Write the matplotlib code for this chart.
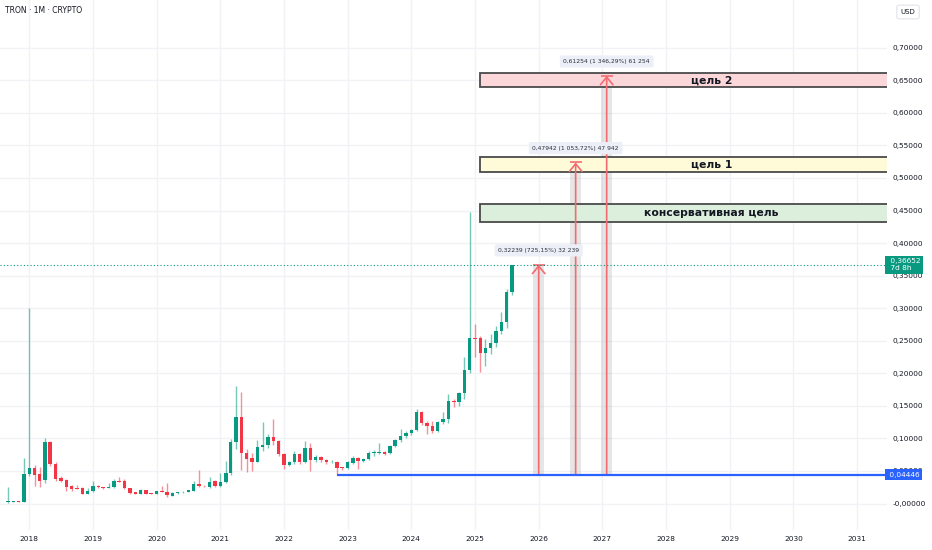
import matplotlib
matplotlib.use("Agg")
import matplotlib.pyplot as plt
import matplotlib.dates as mdates
import matplotlib.transforms as mtransforms
from matplotlib.patches import Rectangle
import pandas as pd
import numpy as np

plt.rcParams['font.family'] = ['DejaVu Sans']

# ---------------- data ----------------
months = pd.date_range('2017-09-01', '2025-08-01', freq='MS')

opens = [0.0020, 0.0022, 0.0028, 0.0022,
         0.0449, 0.0540, 0.0449, 0.0361, 0.0940, 0.0602, 0.0397, 0.0356, 0.0269, 0.0238, 0.0243, 0.0146,
         0.0192, 0.0269, 0.0250, 0.0240, 0.0249, 0.0346, 0.0346, 0.0243, 0.0172, 0.0151, 0.0207, 0.0161,
         0.0146, 0.0192, 0.0172, 0.0120, 0.0157, 0.0172, 0.0172, 0.0197, 0.0300, 0.0274, 0.0249, 0.0340,
         0.0269, 0.0330, 0.0464, 0.0940, 0.1333, 0.0771, 0.0694, 0.0642, 0.0872, 0.0899, 0.1017, 0.0965,
         0.0756, 0.0591, 0.0633, 0.0756, 0.0633, 0.0857, 0.0665, 0.0719, 0.0665, 0.0633, 0.0643, 0.0555,
         0.0540, 0.0627, 0.0694, 0.0653, 0.0684, 0.0771, 0.0776, 0.0791, 0.0771, 0.0888, 0.0975, 0.1042,
         0.1088, 0.1129, 0.1406, 0.1232, 0.1195, 0.1118, 0.1252, 0.1293, 0.1579, 0.1560, 0.1693, 0.2050,
         0.2547, 0.2547, 0.2317, 0.2384, 0.2461, 0.2654, 0.2793, 0.3244]
highs = [0.0249, 0.0040, 0.0035, 0.0694,
         0.3000, 0.0590, 0.0565, 0.1010, 0.0960, 0.0640, 0.0430, 0.0370, 0.0280, 0.0290, 0.0260, 0.0243,
         0.0350, 0.0290, 0.0255, 0.0310, 0.0381, 0.0407, 0.0370, 0.0245, 0.0175, 0.0230, 0.0215, 0.0165,
         0.0197, 0.0269, 0.0310, 0.0170, 0.0180, 0.0185, 0.0210, 0.0346, 0.0515, 0.0280, 0.0400, 0.0360,
         0.0473, 0.0653, 0.0986, 0.1805, 0.1710, 0.0832, 0.0770, 0.0975, 0.1247, 0.1068, 0.1298, 0.0980,
         0.0775, 0.0660, 0.0810, 0.0780, 0.0960, 0.0934, 0.0740, 0.0730, 0.0680, 0.0675, 0.0650, 0.0560,
         0.0660, 0.0734, 0.0710, 0.0700, 0.0806, 0.0820, 0.0934, 0.0810, 0.0900, 0.0995, 0.1140, 0.1120,
         0.1150, 0.1447, 0.1420, 0.1260, 0.1270, 0.1270, 0.1406, 0.1680, 0.1600, 0.1720, 0.2255, 0.4478,
         0.2753, 0.2573, 0.2522, 0.2600, 0.2731, 0.2947, 0.3300, 0.3670]
lows = [0.0015, 0.0018, 0.0018, 0.0018,
        0.0420, 0.0269, 0.0249, 0.0310, 0.0576, 0.0346, 0.0330, 0.0197, 0.0197, 0.0220, 0.0140, 0.0141,
        0.0180, 0.0245, 0.0230, 0.0235, 0.0240, 0.0325, 0.0230, 0.0150, 0.0143, 0.0148, 0.0146, 0.0141,
        0.0143, 0.0170, 0.0105, 0.0115, 0.0150, 0.0168, 0.0170, 0.0195, 0.0260, 0.0250, 0.0240, 0.0249,
        0.0255, 0.0320, 0.0445, 0.0832, 0.0515, 0.0480, 0.0495, 0.0630, 0.0800, 0.0850, 0.0900, 0.0730,
        0.0525, 0.0570, 0.0610, 0.0610, 0.0620, 0.0500, 0.0640, 0.0640, 0.0600, 0.0620, 0.04446, 0.0520,
        0.0530, 0.0610, 0.0525, 0.0640, 0.0670, 0.0730, 0.0755, 0.0740, 0.0760, 0.0870, 0.0950, 0.1000,
        0.1050, 0.1120, 0.1200, 0.1068, 0.1090, 0.1100, 0.1215, 0.1232, 0.1478, 0.1500, 0.1600, 0.2000,
        0.2255, 0.2025, 0.2117, 0.2300, 0.2400, 0.2600, 0.2700, 0.3200]
closes = [0.0030, 0.0028, 0.0022, 0.0449,
          0.0550, 0.0438, 0.0346, 0.0940, 0.0602, 0.0376, 0.0346, 0.0258, 0.0228, 0.0226, 0.0151, 0.0192,
          0.0269, 0.0248, 0.0235, 0.0253, 0.0346, 0.0330, 0.0233, 0.0161, 0.0151, 0.0207, 0.0151, 0.0146,
          0.0192, 0.0172, 0.0128, 0.0166, 0.0172, 0.0180, 0.0207, 0.0300, 0.0264, 0.0264, 0.0330, 0.0269,
          0.0330, 0.0464, 0.0940, 0.1333, 0.0771, 0.0684, 0.0642, 0.0863, 0.0899, 0.1017, 0.0965, 0.0756,
          0.0591, 0.0633, 0.0756, 0.0633, 0.0857, 0.0665, 0.0719, 0.0665, 0.0633, 0.0643, 0.0550, 0.0540,
          0.0642, 0.0704, 0.0653, 0.0684, 0.0771, 0.0786, 0.0791, 0.0766, 0.0888, 0.0975, 0.1042, 0.1088,
          0.1129, 0.1406, 0.1232, 0.1195, 0.1118, 0.1252, 0.1293, 0.1579, 0.1560, 0.1693, 0.2050, 0.2547,
          0.2532, 0.2317, 0.2393, 0.2461, 0.2654, 0.2793, 0.3244, 0.36652]

last_price = 0.36652
base_price = 0.04446
base_start = '2022-11-01'

zone_names = ['цель 2', 'цель 1', 'консервативная цель']
zone_low = [0.6393, 0.5088, 0.4329]
zone_high = [0.6608, 0.5318, 0.4601]
zone_start = '2025-02-01'
zone_end = '2032-05-08'
zone_colors = ['#fcd7da', '#fffbd8', '#dbefdc']

move_dates = ['2026-01-01', '2026-08-01', '2027-01-26']
move_deltas = [0.32239, 0.47942, 0.61254]
move_labels = ['0,32239 (725,15%) 32 239',
               '0,47942 (1 053,72%) 47 942',
               '0,61254 (1 346,29%) 61 254']

price_ticks = [0.00, 0.05, 0.10, 0.15, 0.20, 0.25, 0.30, 0.35, 0.40, 0.45, 0.50, 0.55, 0.60, 0.65, 0.70]
year_ticks = list(range(2018, 2032))

# ---------------- figure ----------------
W, H = 932, 550
fig = plt.figure(figsize=(W / 100, H / 100), dpi=100)
fig.patch.set_facecolor('white')
ax = fig.add_axes([0, 20 / H, 887 / W, 530 / H])
ax.set_facecolor('white')

UP = '#089981'
DOWN = '#f23645'
TXT = '#131722'

x = mdates.date2num(months)
o = np.array(opens); h = np.array(highs); l = np.array(lows); c = np.array(closes)
up = c >= o
cols = np.where(up, UP, DOWN)

# wicks
ax.vlines(x, l, h, colors=cols, linewidth=1.0, alpha=0.55, zorder=4)
# bodies
body_bottom = np.minimum(o, c)
body_h = np.maximum(np.abs(c - o), 0.0012)
ax.bar(x, body_h, bottom=body_bottom, width=20, color=cols, linewidth=0, zorder=5)

# grid
for v in price_ticks:
    ax.axhline(v, color='#f0f2f5', lw=1.0, zorder=0)
year_x = [mdates.date2num(pd.Timestamp(f'{yy}-01-01')) for yy in year_ticks]
for xv in year_x:
    ax.axvline(xv, color='#f0f2f5', lw=1.0, zorder=0)

# zones
zs = mdates.date2num(pd.Timestamp(zone_start))
ze = mdates.date2num(pd.Timestamp(zone_end))
for name, lo, hi, fc in zip(zone_names, zone_low, zone_high, zone_colors):
    r = Rectangle((zs, lo), ze - zs, hi - lo, facecolor=fc, edgecolor='#4a4a4a',
                  lw=1.3, zorder=2)
    ax.add_patch(r)
    ax.text((zs + ze) / 2, (lo + hi) / 2, name, ha='center', va='center',
            fontsize=7.8, fontweight='bold', color=TXT, zorder=6, clip_on=False)

# moves (arrows)
for d, dv, lab in zip(move_dates, move_deltas, move_labels):
    xm = mdates.date2num(pd.Timestamp(d))
    top = base_price + dv
    ax.bar([xm], [dv], bottom=[base_price], width=64, color='#9e9e9e', alpha=0.25,
           linewidth=0, zorder=1)
    ax.annotate('', xy=(xm, top), xytext=(xm, base_price),
                arrowprops=dict(arrowstyle='->,head_length=0.55,head_width=0.45',
                                color='#f26b72', lw=1.2, shrinkA=0, shrinkB=0),
                zorder=3)
    ax.plot([xm], [top], marker='_', markersize=9, mew=1.2, color='#f26b72', zorder=3)
    ax.annotate(lab, xy=(xm, top), xytext=(0, 10.3), textcoords='offset points',
                ha='center', va='center', fontsize=4.3, color='#2a2e39', zorder=7,
                bbox=dict(boxstyle='round,pad=0.6,rounding_size=0.3', facecolor='#eceff7',
                          edgecolor='none'))

# base line
bx = mdates.date2num(pd.Timestamp(base_start))
ax.plot([bx, ze], [base_price, base_price], color='#2962ff', lw=1.6, zorder=6,
        solid_capstyle='butt')

# last price dotted line
ax.axhline(last_price, color=UP, lw=0.8, ls=(0, (1, 2)), zorder=3)

# limits
x_left = mdates.date2num(pd.Timestamp('2017-07-17'))
x_right = mdates.date2num(pd.Timestamp('2031-06-22'))
ax.set_xlim(x_left, x_right)
ax.set_ylim(-0.0407, 0.7734)

for s in ax.spines.values():
    s.set_visible(False)

# y ticks (right)
ax.yaxis.tick_right()
ax.set_yticks(price_ticks)
ax.set_yticklabels([('-0,00000' if v == 0 else f'{v:.5f}'.replace('.', ',')) for v in price_ticks])
ax.tick_params(axis='y', length=0, pad=4.2, labelsize=5.3, labelcolor=TXT)

# x ticks
ax.set_xticks(year_x)
ax.set_xticklabels([str(yy) for yy in year_ticks])
ax.tick_params(axis='x', length=0, pad=4.6, labelsize=5.3, labelcolor=TXT)

# right-side price labels
trans = mtransforms.blended_transform_factory(ax.transAxes, ax.transData)
ax.text(1.0, base_price, ' 0,04446', transform=trans, ha='left', va='center',
        fontsize=5.3, color='white', clip_on=False, zorder=10,
        bbox=dict(boxstyle='square,pad=0.3', facecolor='#2962ff', edgecolor='none'))
ax.annotate(' 0,36652\n 7d 8h', xy=(1.0, last_price), xycoords=trans,
            xytext=(0.5, 4.8), textcoords='offset points', ha='left', va='top',
            fontsize=5.3, color='white', linespacing=1.25, annotation_clip=False, zorder=10,
            bbox=dict(boxstyle='square,pad=0.3', facecolor=UP, edgecolor='none'))

# title & currency box
fig.text(5 / W, 1 - 10.5 / H, 'TRON · 1M · CRYPTO', ha='left', va='center',
         fontsize=5.5, color=TXT)
fig.text(908 / W, 1 - 12 / H, 'USD', ha='center', va='center', fontsize=5.0, color=TXT,
         bbox=dict(boxstyle='round,pad=0.55,rounding_size=0.3', facecolor='white',
                   edgecolor='#e0e3eb', lw=0.8))

fig.savefig('out.png', dpi=100, facecolor='white')
